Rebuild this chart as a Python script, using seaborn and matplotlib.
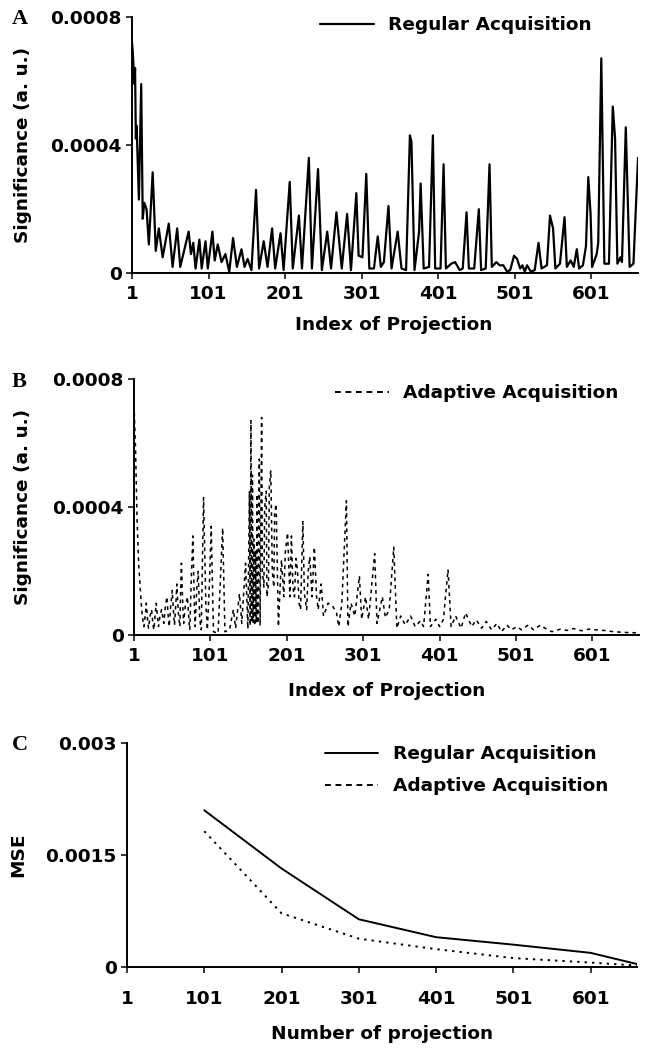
import numpy as np
import pandas as pd
import matplotlib
matplotlib.use("Agg")
import matplotlib.pyplot as plt
from matplotlib.lines import Line2D
import seaborn as sns

# panel A: regular acquisition, significance per projection (units 1e-4)
reg_idx = [1, 2, 4, 5, 6, 7, 10, 13, 15, 17, 20, 23, 28, 32, 36, 41, 49, 54, 60, 64,
           75, 78, 81, 84, 89, 92, 97, 100, 106, 109, 113, 118, 123, 128, 133, 138, 144, 148,
           152, 157, 163, 167, 173, 178, 184, 188, 195, 199, 207, 211, 219, 223, 232, 236,
           244, 249, 256, 261, 268, 275, 282, 287, 294, 297, 302, 307, 311, 317, 322, 326,
           330, 336, 340, 348, 353, 359, 364, 366, 370, 376, 378, 382, 389, 394, 397, 404,
           408, 411, 418, 423, 429, 433, 438, 441, 448, 454, 457, 463, 468, 471, 477, 481,
           486, 491, 495, 500, 504, 508, 511, 514, 517, 522, 527, 532, 536, 543, 547, 551,
           554, 560, 566, 569, 574, 578, 582, 585, 590, 594, 597, 600, 602, 608, 610, 614,
           618, 624, 629, 632, 635, 639, 641, 646, 651, 656, 662]
reg_sig = [7.2, 6.9, 5.9, 6.4, 4.2, 4.6, 2.3, 5.9, 1.7, 2.2, 2.0, 0.9, 3.15, 0.7, 1.4, 0.5, 1.55, 0.2, 1.4, 0.2,
           1.3, 0.6, 0.95, 0.15, 1.05, 0.15, 1.0, 0.15, 1.3, 0.4, 0.9, 0.35, 0.6, 0.05, 1.1, 0.2, 0.75, 0.2,
           0.45, 0.1, 2.6, 0.15, 1.0, 0.2, 1.4, 0.15, 1.25, 0.1, 2.85, 0.15, 1.8, 0.15, 3.6, 0.15,
           3.25, 0.1, 1.3, 0.15, 1.9, 0.15, 1.85, 0.1, 2.5, 0.55, 0.5, 3.1, 0.15, 0.15, 1.15, 0.2,
           0.35, 2.1, 0.15, 1.3, 0.15, 0.1, 4.3, 4.1, 0.1, 1.3, 2.8, 0.15, 0.2, 4.3, 0.15, 0.15,
           3.4, 0.15, 0.3, 0.35, 0.1, 0.15, 1.9, 0.15, 0.15, 2.0, 0.1, 0.15, 3.4, 0.2, 0.35, 0.25,
           0.25, 0.05, 0.1, 0.55, 0.45, 0.15, 0.25, 0.05, 0.25, 0.05, 0.1, 0.95, 0.15, 0.25, 1.8, 1.4,
           0.15, 0.3, 1.75, 0.2, 0.4, 0.2, 0.75, 0.15, 0.25, 0.85, 3.0, 1.85, 0.2, 0.6, 0.95, 6.7,
           0.3, 0.3, 5.2, 4.2, 0.3, 0.5, 0.35, 4.55, 0.2, 0.3, 3.6]

# panel B: adaptive acquisition (units 1e-4)
adp_idx = [1, 3, 5, 7, 10, 11, 13, 14, 16, 17, 19, 20, 22, 24, 26, 27, 29, 30, 32, 33, 35, 37, 39,
           40, 42, 44, 46, 47, 49, 51, 53, 54, 56, 57, 59, 61, 62, 63, 65, 66, 68, 71, 73, 74, 76,
           78, 80, 81, 83, 85, 87, 89, 90, 92, 95, 97, 100, 102, 105, 111, 117, 120, 126, 131, 134,
           139, 142, 147, 150, 152, 153, 154, 155, 156, 157, 158, 159, 160, 161, 162, 163, 165, 166,
           168, 169, 171, 172, 174, 175, 177, 178, 180, 182, 184, 185, 187, 190, 192, 194, 197, 199,
           202, 205, 207, 209, 211, 213, 215, 217, 219, 222, 224, 227, 229, 231, 234, 237, 240, 242,
           246, 249, 255, 260, 266, 269, 273, 279, 281, 285, 290, 296, 299, 304, 308, 316, 319, 326,
           330, 335, 341, 345, 350, 356, 363, 369, 376, 380, 386, 389, 396, 401, 406, 412, 416, 422,
           429, 435, 443, 449, 456, 462, 469, 476, 482, 489, 495, 502, 508, 517, 524, 533, 539, 548,
           559, 568, 576, 587, 596, 605, 616, 629, 642, 655, 662]
adp_sig = [7.2, 5.8, 3.6, 2.25, 1.2, 0.8, 0.4, 0.27, 0.7, 1.0, 0.4, 0.22, 0.6, 0.8, 0.3, 0.17, 0.7, 1.0, 0.5,
           0.27, 0.6, 0.8, 0.5, 0.37, 0.9, 1.2, 0.5, 0.27, 0.9, 1.4, 0.6, 0.32, 1.1, 1.6, 0.7, 0.27, 1.4,
           2.25, 0.8, 0.37, 0.9, 1.2, 0.4, 0.17, 1.8, 3.1, 0.9, 0.27, 1.4, 2.0, 0.5, 0.17, 1.5, 4.3, 1.0,
           0.17, 1.8, 3.4, 0.11, 0.06, 3.35, 0.11, 0.17, 0.8, 0.22, 1.3, 0.37, 2.25, 0.2, 4.5, 0.3, 6.7,
           0.4, 5.0, 0.4, 3.0, 0.3, 2.65, 0.4, 4.4, 0.37, 5.5, 0.3, 6.8, 2.0, 1.5, 4.0, 4.5, 1.2, 1.6, 4.6,
           5.15, 2.0, 1.5, 3.8, 4.1, 0.27, 1.4, 2.35, 1.2, 2.6, 3.2, 1.2, 3.1, 1.5, 1.2, 2.4, 2.0, 1.0, 0.8,
           3.55, 1.3, 0.8, 2.0, 2.45, 1.2, 2.75, 1.2, 0.8, 1.6, 0.6, 1.0, 0.95, 0.7, 0.27, 1.0, 4.2, 0.27,
           1.0, 0.6, 1.85, 0.5, 1.2, 0.5, 2.55, 0.37, 1.2, 0.55, 0.8, 2.75, 0.22, 0.6, 0.32, 0.6, 0.27,
           0.45, 0.27, 1.9, 0.27, 0.5, 0.27, 0.5, 2.05, 0.27, 0.6, 0.22, 0.7, 0.27, 0.48, 0.22, 0.43, 0.17,
           0.37, 0.11, 0.32, 0.17, 0.27, 0.17, 0.32, 0.17, 0.32, 0.22, 0.11, 0.19, 0.15, 0.21, 0.14, 0.19,
           0.17, 0.15, 0.11, 0.09, 0.08, 0.06]

# panel C: MSE vs number of projections
n_proj = [101, 201, 301, 401, 501, 601, 661]
mse_regular = [0.00210, 0.00132, 0.00064, 0.00040, 0.00030, 0.00019, 0.00004]
mse_adaptive = [0.00182, 0.00072, 0.00038, 0.00024, 0.00012, 0.00006, 0.00002]

x_ticks = [1, 101, 201, 301, 401, 501, 601]

sns.set_style("ticks")
plt.rcParams['font.family'] = ['DejaVu Sans']
plt.rcParams['font.weight'] = 'bold'
plt.rcParams['axes.labelweight'] = 'bold'
for k in ['text.color', 'axes.labelcolor', 'xtick.color', 'ytick.color', 'axes.edgecolor']:
    plt.rcParams[k] = 'black'

FS = 13.3
DASH = (0, (3, 2.4))

fig = plt.figure(figsize=(6.5, 10.5), dpi=100)
axA = fig.add_axes([0.2031, 0.7397, 0.7785, 0.2444])
axB = fig.add_axes([0.2062, 0.3950, 0.7769, 0.2441])
axC = fig.add_axes([0.1954, 0.0790, 0.7846, 0.2133])

dfA = pd.DataFrame({'idx': reg_idx, 'sig': np.array(reg_sig) * 1e-4})
dfB = pd.DataFrame({'idx': adp_idx, 'sig': np.array(adp_sig) * 1e-4})

sns.lineplot(data=dfA, x='idx', y='sig', ax=axA, color='black', lw=1.6, label='Regular Acquisition')
sns.lineplot(data=dfB, x='idx', y='sig', ax=axB, color='black', lw=1.1, linestyle=(0, (2.4, 2.6)),
             label='Adaptive Acquisition')
sns.lineplot(x=n_proj, y=mse_regular, ax=axC, color='black', lw=1.4)
sns.lineplot(x=n_proj, y=mse_adaptive, ax=axC, color='black', lw=1.4, linestyle=(0, (1.2, 2.6)))


def style(ax, ylim, yticks, ylabels, xlabel, ylabel, xlim, xpad=4):
    ax.set_xlim(*xlim)
    ax.set_ylim(*ylim)
    ax.set_xticks(x_ticks)
    ax.set_yticks(yticks)
    ax.set_yticklabels(ylabels)
    for s in ['top', 'right']:
        ax.spines[s].set_visible(False)
    for s in ['left', 'bottom']:
        ax.spines[s].set_linewidth(1.4)
        ax.spines[s].set_color('black')
    ax.tick_params(axis='both', length=4.5, width=1.1, color='black', labelcolor='black', labelsize=FS)
    ax.tick_params(axis='y', pad=3)
    ax.tick_params(axis='x', pad=xpad)
    for t in ax.get_xticklabels() + ax.get_yticklabels():
        t.set_fontweight('bold')
    ax.set_xlabel(xlabel, fontsize=FS, fontweight='bold', color='black')
    ax.set_ylabel(ylabel, fontsize=FS, fontweight='bold', color='black')


style(axA, (0, 0.0008), [0, 0.0004, 0.0008], ['0', '0.0004', '0.0008'],
      'Index of Projection', 'Significance (a. u.)', (1, 662))
style(axB, (0, 0.0008), [0, 0.0004, 0.0008], ['0', '0.0004', '0.0008'],
      'Index of Projection', 'Significance (a. u.)', (1, 662))
style(axC, (0, 0.003), [0, 0.0015, 0.003], ['0', '0.0015', '0.003'],
      'Number of projection', 'MSE', (1, 661), xpad=12)

axA.yaxis.set_label_coords(-0.198, 0.5)
axB.yaxis.set_label_coords(-0.202, 0.5)
axC.yaxis.set_label_coords(-0.196, 0.5)
axA.xaxis.set_label_coords(0.517, -0.167)
axB.xaxis.set_label_coords(0.50, -0.184)
axC.xaxis.set_label_coords(0.50, -0.26)

leg_kw = dict(frameon=False, fontsize=FS, borderpad=0, borderaxespad=0,
              handlelength=2.9, handletextpad=0.8, loc='center left')
legA = axA.legend(bbox_to_anchor=(0.3715, 0.9676), **leg_kw)
legB = axB.legend(handles=[Line2D([], [], color='black', lw=1.4, linestyle=DASH)],
                  labels=['Adaptive Acquisition'], bbox_to_anchor=(0.398, 0.945), **leg_kw)
handles_c = [Line2D([], [], color='black', lw=1.4),
             Line2D([], [], color='black', lw=1.4, linestyle=DASH)]
legC = axC.legend(handles_c, ['Regular Acquisition', 'Adaptive Acquisition'],
                  bbox_to_anchor=(0.388, 0.879), labelspacing=0.75, **leg_kw)
for leg in (legA, legB, legC):
    for t in leg.get_texts():
        t.set_fontweight('bold')
        t.set_color('black')

for letter, ypos in [('A', 19), ('B', 382), ('C', 745)]:
    fig.text(12 / 650, 1 - ypos / 1050, letter, family='Liberation Serif', fontweight='bold',
             fontsize=16, ha='left', va='center', color='black')

fig.savefig('out.png', dpi=100)
